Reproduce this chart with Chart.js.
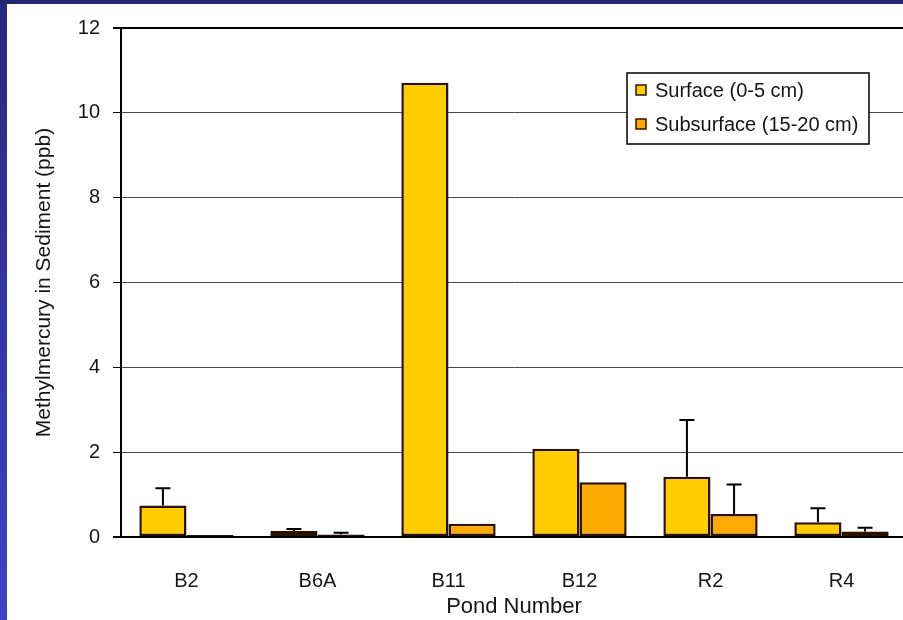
<!DOCTYPE html>
<html>
<head>
<meta charset="utf-8">
<script src="https://cdn.jsdelivr.net/npm/chart.js@4/dist/chart.umd.min.js"></script>
<style>
  html, body { margin: 0; padding: 0; overflow: hidden; background: #fff; width: 903px; height: 620px; }
  canvas { display: block; }
</style>
</head>
<body>
<canvas id="chart" width="907" height="620"></canvas>
<script>
// Methylmercury in sediment by pond, surface vs subsurface cores
const ponds = ['B2', 'B6A', 'B11', 'B12', 'R2', 'R4'];
const surface = [0.74, 0.14, 10.71, 2.08, 1.42, 0.35];
const subsurface = [0.05, 0.06, 0.31, 1.29, 0.54, 0.13];
// upper error bar lengths (ppb); 0 = none shown
const surfaceErr = [0.41, 0.05, 0, 0, 1.34, 0.33];
const subsurfaceErr = [0, 0.04, 0, 0, 0.70, 0.09];
const yTicks = [0, 2, 4, 6, 8, 10, 12];

const FONT = "'Liberation Sans', Arial, sans-serif";
const INK = '#151515';

// White page with the slide's blue frame along the top and left edges
const slideFrame = {
  id: 'slideFrame',
  beforeDraw(chart) {
    const { ctx, width, height } = chart;
    ctx.save();
    ctx.fillStyle = '#ffffff';
    ctx.fillRect(0, 0, width, height);
    ctx.restore();
  },
  afterDraw(chart) {
    const { ctx, width, height } = chart;
    ctx.save();
    const g = ctx.createLinearGradient(0, 0, 0, height);
    g.addColorStop(0, '#262a7c');
    g.addColorStop(1, '#3c44c8');
    ctx.fillStyle = g;
    ctx.fillRect(0, 0, 7, height);
    ctx.fillStyle = '#23276f';
    ctx.fillRect(0, 0, width, 4);
    ctx.restore();
  }
};

// Upper error bars with a flat cap
const errorBars = {
  id: 'errorBars',
  afterDatasetsDraw(chart) {
    const { ctx } = chart;
    const yScale = chart.scales.y;
    ctx.save();
    ctx.strokeStyle = '#000';
    ctx.lineWidth = 2;
    chart.data.datasets.forEach((ds, di) => {
      const meta = chart.getDatasetMeta(di);
      meta.data.forEach((bar, i) => {
        const e = ds.errors[i];
        if (!e) return;
        const top = yScale.getPixelForValue(ds.data[i] + e);
        ctx.beginPath();
        ctx.moveTo(bar.x, bar.y);
        ctx.lineTo(bar.x, top);
        ctx.moveTo(bar.x - 7.5, top);
        ctx.lineTo(bar.x + 7.5, top);
        ctx.stroke();
      });
    });
    ctx.restore();
  }
};

// Boxed legend placed inside the plot area, upper right
const boxLegend = {
  id: 'boxLegend',
  afterDraw(chart) {
    const { ctx, chartArea } = chart;
    const x = chartArea.right - 280, y = chartArea.top + 45, w = 242, h = 71;
    ctx.save();
    ctx.fillStyle = '#fff';
    ctx.fillRect(x, y, w, h);
    ctx.strokeStyle = '#000';
    ctx.lineWidth = 1.5;
    ctx.strokeRect(x, y, w, h);
    ctx.font = '20px ' + FONT;
    ctx.textBaseline = 'middle';
    chart.data.datasets.forEach((ds, i) => {
      const cy = y + 17 + i * 34;
      ctx.fillStyle = ds.backgroundColor;
      ctx.fillRect(x + 9, cy - 5, 10, 10);
      ctx.strokeStyle = '#2e1500';
      ctx.lineWidth = 1.5;
      ctx.strokeRect(x + 9, cy - 5, 10, 10);
      ctx.fillStyle = INK;
      ctx.fillText(ds.label, x + 28, cy + 1);
    });
    ctx.restore();
  }
};

new Chart(document.getElementById('chart'), {
  type: 'bar',
  data: {
    labels: ponds,
    datasets: [
      {
        label: 'Surface (0-5 cm)',
        data: surface,
        errors: surfaceErr,
        backgroundColor: '#FFCC00',
        borderColor: '#2a1200',
        borderWidth: 2.5,
        borderSkipped: false,
        categoryPercentage: 0.72,
        barPercentage: 1.0
      },
      {
        label: 'Subsurface (15-20 cm)',
        data: subsurface,
        errors: subsurfaceErr,
        backgroundColor: '#FFAA00',
        borderColor: '#2a1200',
        borderWidth: 2.5,
        borderSkipped: false,
        categoryPercentage: 0.72,
        barPercentage: 1.0
      }
    ]
  },
  options: {
    responsive: false,
    devicePixelRatio: 1,
    animation: false,
    layout: { padding: { top: 28, left: 0, right: 0, bottom: 0 } },
    plugins: {
      legend: { display: false },
      tooltip: { enabled: false }
    },
    scales: {
      x: {
        grid: { display: false },
        border: { display: true, color: '#000', width: 2 },
        ticks: { color: INK, font: { family: FONT, size: 20 }, padding: 24 },
        title: {
          display: true,
          text: 'Pond Number',
          color: INK,
          font: { family: FONT, size: 22 },
          padding: { top: 0, bottom: 0 }
        },
        afterFit(scale) { scale.height = 83; }
      },
      y: {
        min: 0,
        max: 12,
        afterBuildTicks(scale) { scale.ticks = yTicks.map(v => ({ value: v })); },
        grid: {
          color: c => (c.tick && (c.tick.value === 12 || c.tick.value === 0)) ? '#000' : '#4a4a4a',
          lineWidth: c => (c.tick && (c.tick.value === 12 || c.tick.value === 0)) ? 2 : 1,
          tickColor: '#000',
          tickLength: 8
        },
        border: { display: true, color: '#000', width: 2 },
        ticks: { color: INK, font: { family: FONT, size: 20 }, padding: 13 },
        title: {
          display: true,
          text: 'Methylmercury in Sediment (ppb)',
          color: INK,
          font: { family: FONT, size: 21 },
          padding: { top: 32, bottom: 0 }
        },
        afterFit(scale) { scale.width = 121; }
      }
    }
  },
  plugins: [slideFrame, errorBars, boxLegend]
});
</script>
</body>
</html>
